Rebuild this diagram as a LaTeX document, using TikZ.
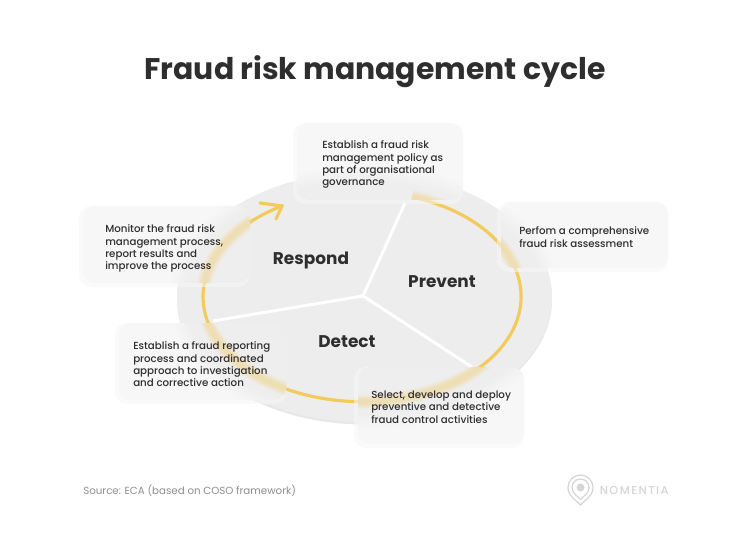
\documentclass[tikz,border=0pt]{standalone}
\usepackage{fontspec}
\setmainfont{Poppins}
\newfontfamily\semib{Poppins Medium}
\newfontfamily\heavy{Poppins Bold}
\newfontfamily\logof[LetterSpace=12]{Poppins Medium}
\usetikzlibrary{calc}
\definecolor{ringc}{HTML}{F2CB5C}
\definecolor{discc}{HTML}{EDEDED}
\definecolor{boxc}{HTML}{F7F7F7}
\definecolor{inkc}{HTML}{2E2E2E}
\definecolor{srcc}{HTML}{8E8E8E}
\definecolor{logoc}{HTML}{D6D6D6}
\tikzset{
 body/.style={anchor=north west,align=left,inner sep=0pt,text=inkc,font=\fontsize{7.7pt}{9.25pt}\semib},
 stage/.style={inner sep=0pt,text=inkc,font=\fontsize{12.7pt}{15pt}\heavy},
 ringline/.style={draw=ringc,line width=2.4pt},
 slice/.style={draw=white,line width=2.2pt},
}
% blurred copy of what lies beneath a frosted card
\newcommand{\softunder}{%
 \foreach \d in {8,6,4,2,0,-2,-4,-6,-8}{
  \fill[black,opacity=0.0042] (364.5,298) ellipse [x radius=187.5+\d,y radius=125+\d];
 }
 \foreach \w in {11,9,7.5,6,4.5,3}{
  \draw[draw=ringc,line width=\w pt,opacity=0.08] (412,197) arc[start angle=-71.7,end angle=240,x radius=159,y radius=105];
 }
}
\newcommand{\glasscard}[4]{%
 \fill[boxc,opacity=0.55,rounded corners=9pt] (#1-4,#2) rectangle (#3,#4+4);
 \fill[boxc,rounded corners=9pt] (#1,#2) rectangle (#3,#4);
 \begin{scope}
  \clip[rounded corners=9pt] (#1,#2) rectangle (#3,#4);
  \softunder
 \end{scope}
}
\begin{document}
\begin{tikzpicture}[x=0.75pt,y=-0.75pt]
\useasboundingbox (0,0) rectangle (750,549);
\fill[white] (0,0) rectangle (750,549);
\node[inner sep=0pt,text=inkc,font=\fontsize{22.4pt}{28pt}\heavy] (title) at (375,71.5) {Fraud risk management cycle};
% disc
\fill[black!9] (364.5,299.5) ellipse [x radius=187.5,y radius=125];
\fill[discc] (364.5,297) ellipse [x radius=187.5,y radius=125];
\coordinate (hub) at (363,296);
\coordinate (a) at (405,203);
\coordinate (b) at (472,367);
\coordinate (c) at (213,321);
\draw[slice] (a) -- (hub) -- (b);
\draw[slice] (hub) -- (c);
% ring
\draw[ringline] (412,197) arc[start angle=-71.7,end angle=240,x radius=159,y radius=105];
\coordinate (w1) at (260,203);
\coordinate (tip) at (282,206);
\coordinate (w2) at (276,219);
\draw[ringline,line cap=round,line join=miter] (w1) -- (tip) -- (w2);
% cards
\glasscard{297}{123}{463}{200}
\glasscard{83}{206}{250}{283}
\glasscard{501}{202}{668}{268}
\glasscard{119}{323}{286}{400}
\glasscard{358}{367}{524}{444}
% texts
\node[body] (t1) at (322,140.5) {Establish a fraud risk\\management policy as\\part of organisational\\governance};
\node[body] (t2) at (105,224.5) {Monitor the fraud risk\\management process,\\report results and\\improve the process};
\node[body] (t3) at (519,226.5) {Perfom a comprehensive\\fraud risk assessment};
\node[body] (t4) at (133,341.5) {Establish a fraud reporting\\process and coordinated\\approach to investigation\\and corrective action};
\node[body] (t5) at (371,390.5) {Select, develop and deploy\\preventive and detective\\fraud control activities};
\node[stage] (s1) at (311,260) {Respond};
\node[stage] (s2) at (442,282) {Prevent};
\node[stage] (s3) at (347,342) {Detect};
\node[anchor=west,inner sep=0pt,text=srcc,font=\fontsize{7.7pt}{10pt}\selectfont] (src) at (83,490.5) {Source: ECA (based on COSO framework)};
% logo
\foreach \r in {12.5,8.5}{
 \draw[logoc,line width=0.9pt] (580.5,487.5) ++(-\r,0) arc[start angle=180,end angle=360,radius=\r] .. controls (580.5+\r,487.5+\r*0.7) and (580.5+\r*0.3,487.5+\r*1.05) .. (580.5,487.5+\r*1.4) .. controls (580.5-\r*0.3,487.5+\r*1.05) and (580.5-\r,487.5+\r*0.7) .. cycle;
}
\fill[logoc] (580.5,487.5) circle [radius=4];
\node[anchor=west,inner sep=0pt,text=logoc,font=\fontsize{8.6pt}{10pt}\logof] (logo) at (599.5,490.5) {NOMENTIA};
\end{tikzpicture}
\end{document}
